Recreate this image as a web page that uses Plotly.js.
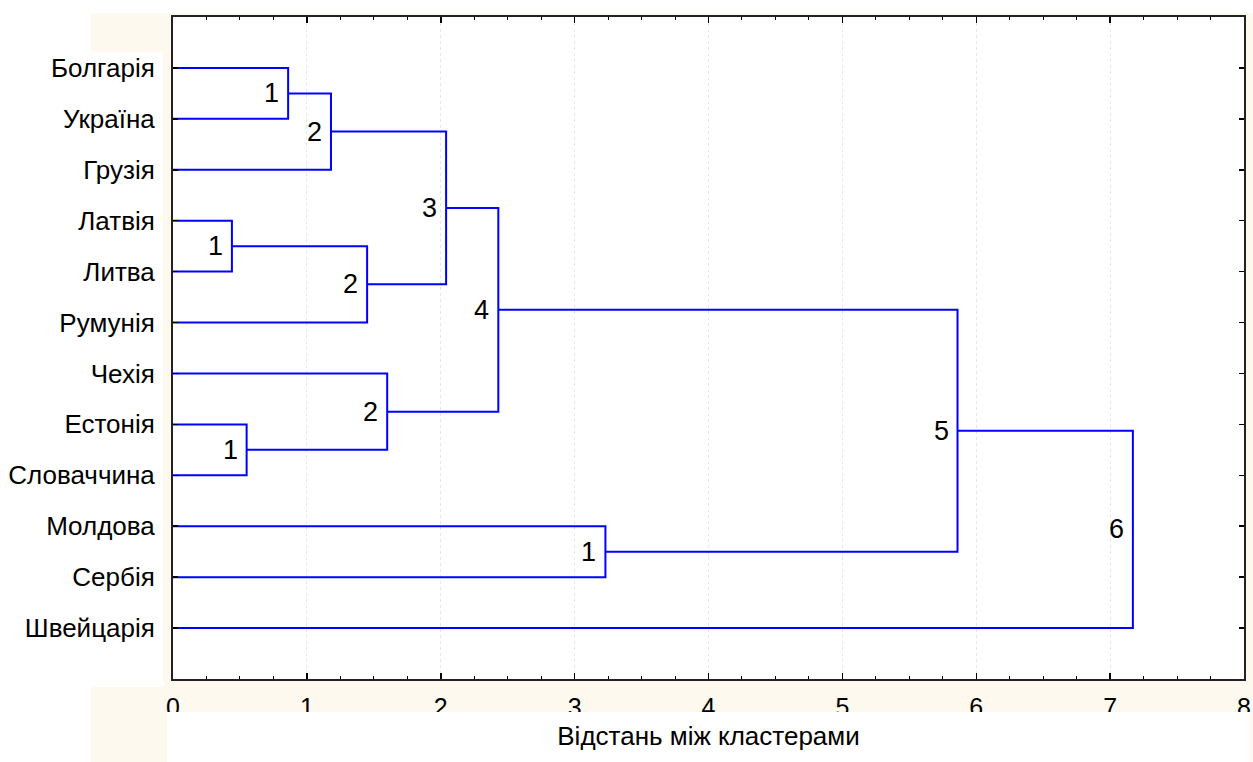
<!DOCTYPE html>
<html>
<head>
<meta charset="utf-8">
<script src="https://cdn.plot.ly/plotly-3.0.1.min.js"></script>
<style>html,body{margin:0;padding:0;background:#fff;}</style>
</head>
<body>
<div id="chart" style="width:1253px;height:762px;"></div>
<script>
// Leaves (top to bottom)
const leaves = ['Болгарія','Україна','Грузія','Латвія','Литва','Румунія','Чехія','Естонія','Словаччина','Молдова','Сербія','Швейцарія'];
// Merges: a number refers to an earlier merge (by index), a string to a leaf
const mergeA = ['Болгарія', 0, 'Латвія', 2, 1, 'Естонія', 'Чехія', 4, 'Молдова', 7, 9];
const mergeB = ['Україна', 'Грузія', 'Литва', 'Румунія', 3, 'Словаччина', 5, 6, 'Сербія', 8, 'Швейцарія'];
const mergeDist = [0.86, 1.18, 0.44, 1.45, 2.04, 0.55, 1.60, 2.43, 3.23, 5.86, 7.17];
const mergeLabel = ['1', '2', '1', '2', '3', '1', '2', '4', '1', '5', '6'];
const xTicks = [0, 1, 2, 3, 4, 5, 6, 7, 8];

const FONT = '"Liberation Sans", Arial, sans-serif';
const nodeY = [];
function pos(ref) {
  if (typeof ref === 'string') return {x: 0, y: leaves.indexOf(ref) + 1};
  return {x: mergeDist[ref], y: nodeY[ref]};
}
const xs = [], ys = [], annotations = [];
for (let i = 0; i < mergeDist.length; i++) {
  const a = pos(mergeA[i]), b = pos(mergeB[i]), d = mergeDist[i];
  xs.push(a.x, d, d, b.x, null);
  ys.push(a.y, a.y, b.y, b.y, null);
  const mid = (a.y + b.y) / 2;
  nodeY.push(mid);
  annotations.push({x: d, y: mid, xref: 'x', yref: 'y', text: mergeLabel[i], showarrow: false,
    xanchor: 'right', yanchor: 'middle', xshift: -7, font: {family: FONT, size: 27, color: '#000'}});
}

// pixel -> paper helpers for decorative background boxes
const L = 173, R = 9, T = 17, B = 83, W = 1253, H = 762;
const pw = W - L - R, ph = H - T - B;
const px = v => (v - L) / pw;
const py = v => (H - B - v) / ph;
function box(x0, y0, x1, y1, layer) {
  return {type: 'rect', xref: 'paper', yref: 'paper', x0: px(x0), x1: px(x1), y0: py(y1), y1: py(y0),
    fillcolor: '#ffffff', line: {width: 0}, layer: layer};
}
const shapes = [
  box(0, 0, 91, 762, 'below'),
  box(0, 0, 1253, 13, 'below'),
  box(0, 52, 163, 687, 'below'),
  box(167, 712, 1250, 762, 'above')
];

const data = [{
  type: 'scatter', mode: 'lines', x: xs, y: ys,
  line: {color: '#0000ff', width: 2}, hoverinfo: 'skip', showlegend: false
}];

const layout = {
  width: W, height: H,
  margin: {l: L, r: R, t: T, b: B},
  paper_bgcolor: '#fef9ef', plot_bgcolor: '#ffffff',
  font: {family: FONT, color: '#000'},
  showlegend: false,
  xaxis: {
    range: [0, 8], tickvals: xTicks, ticktext: xTicks.map(String),
    ticks: 'inside', ticklen: 6, tickwidth: 1.5, tickcolor: '#000',
    minor: {dtick: 0.25, tick0: 0, ticks: 'inside', ticklen: 3, tickwidth: 1, tickcolor: '#000', showgrid: false},
    showline: true, linewidth: 2, linecolor: '#222', mirror: 'allticks',
    showgrid: true, gridcolor: '#e6e6e6', griddash: 'dot', gridwidth: 1,
    zeroline: false, ticklabelstandoff: 5,
    tickfont: {family: FONT, size: 25, color: '#000'},
    title: {text: 'Відстань між кластерами', font: {family: FONT, size: 26, color: '#000'}, standoff: 1},
    automargin: false, fixedrange: true
  },
  yaxis: {
    range: [13, 0], tickvals: leaves.map((_, i) => i + 1), ticktext: leaves,
    ticks: 'inside', ticklen: 5, tickwidth: 1.5, tickcolor: '#000',
    showline: true, linewidth: 2, linecolor: '#222', mirror: 'allticks',
    showgrid: false, zeroline: false, ticklabelstandoff: 11,
    tickfont: {family: FONT, size: 26, color: '#000'},
    automargin: false, fixedrange: true
  },
  annotations: annotations,
  shapes: shapes
};

Plotly.newPlot('chart', data, layout, {displayModeBar: false, staticPlot: true});
</script>
</body>
</html>
